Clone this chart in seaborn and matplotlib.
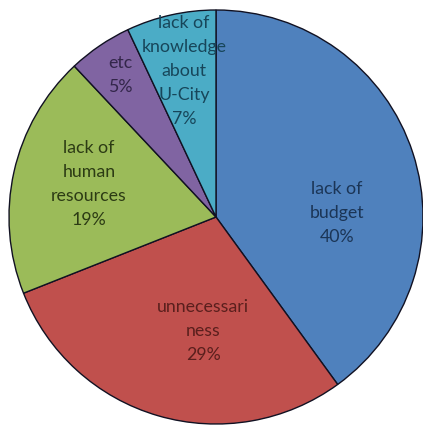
import numpy as np
import matplotlib
matplotlib.use("Agg")
import matplotlib.pyplot as plt
import seaborn as sns

categories = ["lack of\nbudget", "unnecessari\nness", "lack of\nhuman\nresources", "etc", "lack of\nknowledge\nabout\nU-City"]
values = [40, 29, 19, 5, 7]
colors = ["#4F81BD", "#C0504D", "#9BBB59", "#8064A2", "#4BACC6"]
text_colors = ["#1B3556", "#5A1F1D", "#2C3B14", "#33264A", "#17465A"]
# label anchor offsets (radius fraction, angle shift in degrees from wedge middle)
label_pos = [(0.585, -16.1), (0.555, 9.7), (0.634, -1.9), (0.828, -0.1), (0.722, -0.2)]

sns.set_theme(style="white")
plt.rcParams['font.family'] = ['Lato', 'DejaVu Sans']

fig = plt.figure(figsize=(4.23, 4.25), dpi=100)
ax = fig.add_axes([0, 0, 1, 1])
wedges, _ = ax.pie(values, colors=colors, startangle=90, counterclock=False,
                   wedgeprops=dict(edgecolor="#111122", linewidth=1.0))

for w, cat, v, tc, (r, shift) in zip(wedges, categories, values, text_colors, label_pos):
    mid = (w.theta1 + w.theta2) / 2 + shift
    x = r * np.cos(np.radians(mid))
    y = r * np.sin(np.radians(mid))
    ax.text(x, y, f"{cat}\n{v}%", ha="center", va="center", fontsize=12.8,
            color=tc, linespacing=1.62)

ax.set_xlim(-216 / 207, (423 - 216) / 207)
ax.set_ylim(-208 / 207, (425 - 208) / 207)
ax.set_aspect("equal")
ax.axis("off")
fig.savefig("out.png", dpi=100)
